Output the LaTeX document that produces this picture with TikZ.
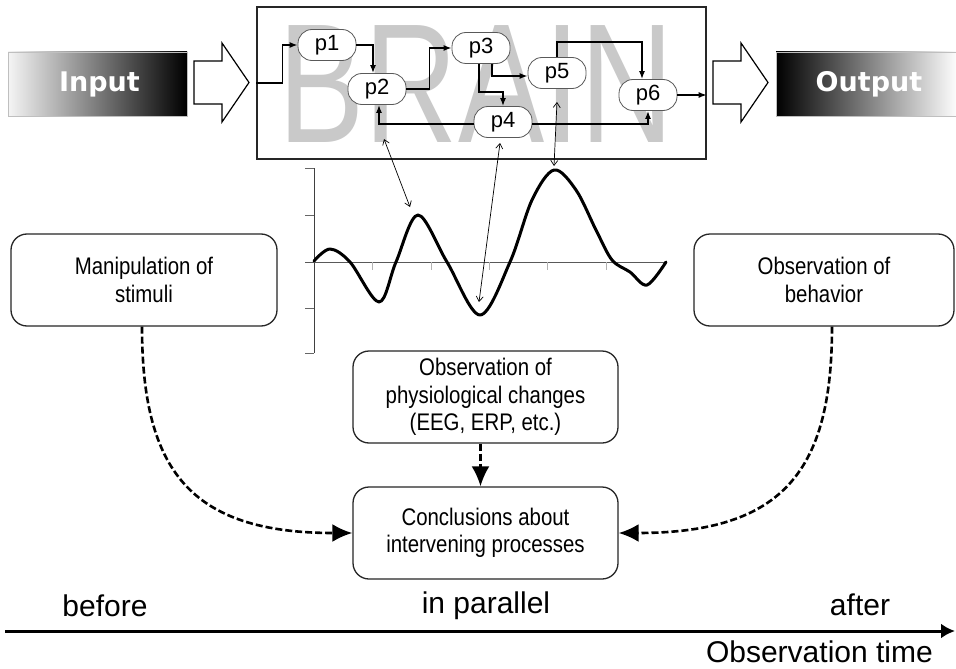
\documentclass[tikz,border=0pt]{standalone}
\usepackage{fontspec}
\setmainfont{Liberation Sans}
\newfontfamily\narrowfont[FakeStretch=0.85]{Liberation Sans}
\newfontfamily\brainfont[FakeStretch=0.76]{Liberation Sans}
\newfontfamily\iofont{DejaVu Sans}
\usetikzlibrary{arrows.meta,calc}
\tikzset{
  proc/.style={draw=gray!70!black, line width=0.8pt, fill=white, rounded corners=14pt,
    minimum width=58pt, minimum height=31pt, inner sep=0pt, font=\fontsize{22}{24}\selectfont},
  flow/.style={line width=1.4pt, -{Latex[length=8pt,width=6pt]}},
  link/.style={line width=0.7pt, {Straight Barb[length=5pt,width=7pt]}-{Straight Barb[length=5pt,width=7pt]}},
  infobox/.style={draw=black!85, line width=1.3pt, rounded corners=16pt, minimum width=265pt,
    minimum height=92pt, align=center, inner sep=0pt, font=\narrowfont\fontsize{24}{27.5}\selectfont},
  dasharrow/.style={line width=2.6pt, dash pattern=on 7pt off 3pt, -{Latex[length=20pt,width=18pt]}},
  blockarrow/.style={draw=black, line width=1.2pt, fill=white, line join=miter},
  iobox/.style={minimum width=179pt, minimum height=64pt, inner sep=0pt, text=white,
    draw=gray!50, line width=0.5pt, font=\iofont\bfseries\fontsize{27}{29}\selectfont},
  timefont/.style={font=\fontsize{30}{32}\selectfont, inner sep=0pt},
}
\begin{document}
\begin{tikzpicture}[x=1pt,y=-1pt]
\useasboundingbox (0,0) rectangle (956,669);
\fill[white] (0,0) rectangle (956,669);

% input / output
\node[iobox, left color=gray!8, right color=black] (input) at (97.5,84) {\hspace*{4pt}Input};
\node[iobox, minimum width=182pt, left color=black, right color=white] (output) at (867,84) {\hspace*{4pt}Output};
\draw[blockarrow] (194,61) -- (222,61) -- (222,43) -- (249,82.5) -- (222,122) -- (222,104) -- (194,104) -- cycle;
\draw[blockarrow] (713,61) -- (741,61) -- (741,43) -- (768,82.5) -- (741,122) -- (741,104) -- (713,104) -- cycle;

% brain box
\node[draw=black!85, line width=1.4pt, minimum width=449pt, minimum height=152pt, inner sep=0pt] (brain) at (481.5,83) {};
\node[anchor=base, text=gray!42, font=\brainfont\fontsize{170}{170}\selectfont, inner sep=0pt] (braintxt) at (476,142) {BRAIN};

% processes
\node[proc] (p1) at (327,45) {p1};
\node[proc] (p2) at (377,89) {p2};
\node[proc] (p3) at (481,48) {p3};
\node[proc] (p5) at (557,73) {p5};
\node[proc] (p4) at (503,122) {p4};
\node[proc] (p6) at (648,95) {p6};

\draw[flow] (brain.west) -- ++(26,0) |- (p1.west);
\draw[flow] (p1.east) -| ([xshift=-4pt]p2.north);
\draw[flow] (p2.east) -- ++(23,0) |- (p3.west);
\draw[flow] ([xshift=11pt]p3.south) |- ([yshift=-3pt]p5.west);
\draw[flow] ([xshift=-2pt]p3.south) -- ++(0,28) -| (p4.north);
\draw[flow] (p5.north) -- ++(0,-15) -| ([xshift=-6pt]p6.north);
\draw[flow] ([yshift=-2pt]p4.west) -| ([xshift=2pt]p2.south);
\draw[flow] ([yshift=-2pt]p4.east) -| (p6.south);
\draw[flow] (p6.east) -- (p6.east -| brain.east);

% waveform axes
\draw[line width=0.9pt, black!75] (314,168) -- (314,353);
\foreach \yy in {168,215,262,308,353} \draw[line width=0.9pt, black!60] (305,\yy) -- (314,\yy);
\draw[line width=0.9pt, black!65] (305,262) -- (666,262);
\foreach \xx in {372,431,489,547,606} \draw[line width=0.8pt, gray!60] (\xx,262) -- (\xx,270);
\draw[line width=3pt, line join=round, line cap=round] plot[smooth, tension=0.55] coordinates {
 (314,261) (330,249) (350,262) (379,302) (396,262) (418,215) (447,262) (480,315) (510,262)
 (532,200) (554,170) (576,190) (596,230) (612,260) (630,272) (647,285) (666,262)};

% links brain <-> waveform
\coordinate (u1) at (384,139);
\coordinate (u2) at (500,143);
\coordinate (u3) at (557,102);
\coordinate (w1) at (410,207);
\coordinate (w2) at (479,302);
\coordinate (w3) at (554,166);
\draw[link] (u1) -- (w1);
\draw[link] (u2) -- (w2);
\draw[link] (u3) -- (w3);

% boxes
\node[infobox, minimum width=266pt] (manip) at (144,280) {Manipulation of\\stimuli};
\node[infobox, minimum width=260pt] (behav) at (824,280) {Observation of\\behavior};
\node[infobox] (phys) at (485.5,397) {Observation of\\physiological changes\\(EEG, ERP, etc.)};
\node[infobox] (concl) at (485.5,533) {Conclusions about\\intervening processes};

\draw[dasharrow] ([xshift=-2pt]manip.south) .. controls (142,470) and (190,533) .. (concl.west);
\draw[dasharrow] ([xshift=8pt]behav.south) .. controls (832,470) and (784,533) .. (concl.east);
\draw[dasharrow] ([xshift=-5pt]phys.south) -- ([xshift=-5pt]concl.north);

% timeline
\coordinate (t0) at (5,631);
\coordinate (t1) at (955,631);
\draw[line width=3pt, -{Latex[length=14pt,width=15pt]}] (t0) -- (t1);
\node[timefont, anchor=base] (before) at (105,616) {before};
\node[timefont, anchor=base] (parallel) at (486,613) {in parallel};
\node[timefont, anchor=base] (after) at (860,615) {after};
\node[timefont, anchor=base east] (obstime) at (933,662) {Observation time};
\end{tikzpicture}
\end{document}
